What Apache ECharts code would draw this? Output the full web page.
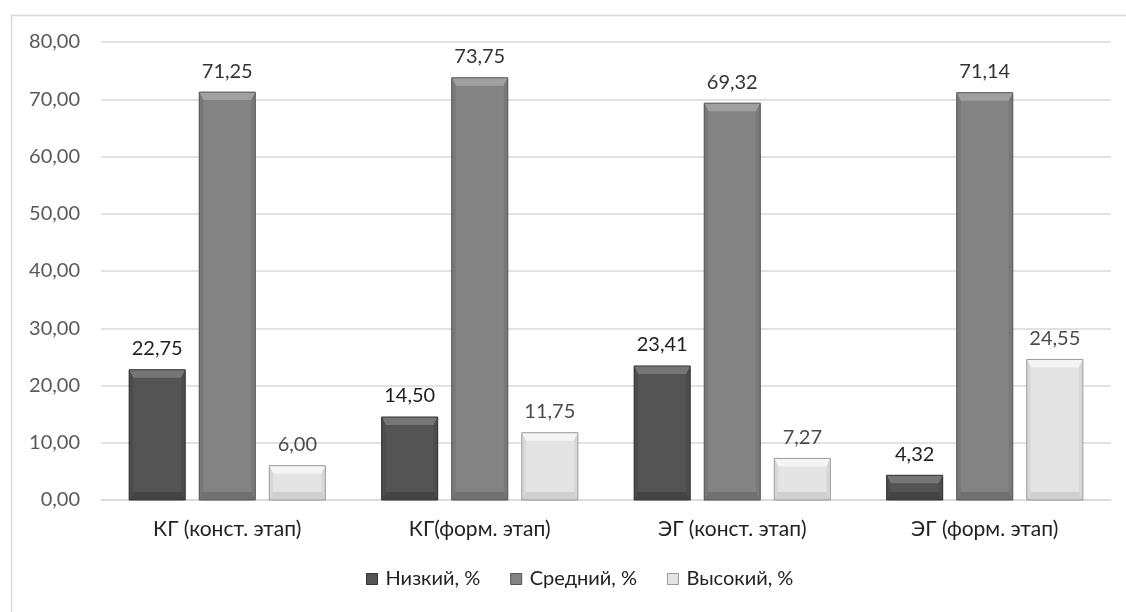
<!DOCTYPE html>
<html>
<head>
<meta charset="utf-8">
<script src="https://cdn.jsdelivr.net/npm/echarts@6/dist/echarts.min.js"></script>
<style>
  html, body { margin: 0; padding: 0; background: #fff; }
  #chart { width: 1126px; height: 612px; }
</style>
</head>
<body>
<div id="chart"></div>
<script>
// Categories and series values
const categories = ['КГ (конст. этап)', 'КГ(форм. этап)', 'ЭГ (конст. этап)', 'ЭГ (форм. этап)'];
const seriesNames = ['Низкий, %', 'Средний, %', 'Высокий, %'];
const lowValues = [22.75, 14.50, 23.41, 4.32];
const midValues = [71.25, 73.75, 69.32, 71.14];
const highValues = [6.00, 11.75, 7.27, 24.55];
const yTicks = [0, 10, 20, 30, 40, 50, 60, 70, 80];

// Shading for the bevelled bars: body, top bevel, side bevel, bottom bevel, outline, label
const palettes = [
  { body: '#545454', top: '#767676', side: '#4c4c4c', bottom: '#444444', edge: '#333333', label: '#1e1e1e' },
  { body: '#838383', top: '#a0a0a0', side: '#797979', bottom: '#707070', edge: '#555555', label: '#333333' },
  { body: '#e4e4e4', top: '#f4f4f4', side: '#d8d8d8', bottom: '#d0d0d0', edge: '#9a9a9a', label: '#4a4a4a' }
];
const allValues = [lowValues, midValues, highValues];

const fmt = v => v.toFixed(2).replace('.', ',');
const FONT = 'Lato, "Open Sans", sans-serif';

function makeRenderer(s) {
  const pal = palettes[s];
  return function (params, api) {
    const i = api.value(0);
    const v = api.value(1);
    const base = api.coord([i, 0]);
    const topPt = api.coord([i, v]);
    const catW = api.size([1, 0])[0];
    const bw = catW * 0.222;
    const gap = bw * 0.25;
    const cx = base[0] + (s - 1) * (bw + gap);
    const x0 = cx - bw / 2, x1 = cx + bw / 2;
    const y0 = topPt[1], y1 = base[1];
    const h = y1 - y0;
    const bv = Math.min(8, h / 2);
    const sv = Math.min(4, bw / 4);
    return {
      type: 'group',
      children: [
        { type: 'rect', shape: { x: x0, y: y0, width: bw, height: h }, style: { fill: pal.body } },
        { type: 'polygon', shape: { points: [[x0, y0], [x1, y0], [x1 - sv, y0 + bv], [x0 + sv, y0 + bv]] }, style: { fill: pal.top } },
        { type: 'polygon', shape: { points: [[x0, y0], [x0 + sv, y0 + bv], [x0 + sv, y1 - bv], [x0, y1]] }, style: { fill: pal.side } },
        { type: 'polygon', shape: { points: [[x1, y0], [x1 - sv, y0 + bv], [x1 - sv, y1 - bv], [x1, y1]] }, style: { fill: pal.side } },
        { type: 'polygon', shape: { points: [[x0, y1], [x0 + sv, y1 - bv], [x1 - sv, y1 - bv], [x1, y1]] }, style: { fill: pal.bottom } },
        { type: 'rect', shape: { x: x0, y: y0, width: bw, height: h }, style: { fill: 'none', stroke: pal.edge, lineWidth: 1 } },
        { type: 'text', style: { text: fmt(v), x: cx, y: y0 - 11, align: 'center', verticalAlign: 'bottom', fill: pal.label, font: '20px ' + FONT } }
      ]
    };
  };
}

const chart = echarts.init(document.getElementById('chart'), null, { renderer: 'canvas' });
chart.setOption({
  backgroundColor: '#ffffff',
  animation: false,
  graphic: [
    { type: 'rect', shape: { x: 11.5, y: 15.5, width: 1130, height: 620 }, style: { fill: 'none', stroke: '#d9d9d9', lineWidth: 1.5 }, z: -1 }
  ],
  grid: { left: 101, right: 15, top: 42, bottom: 112 },
  legend: {
    bottom: 18,
    left: 361,
    icon: 'rect',
    itemWidth: 11,
    itemHeight: 11,
    itemGap: 30,
    itemStyle: { borderWidth: 1 },
    textStyle: { fontSize: 20, color: '#222', fontFamily: FONT, padding: [0, 0, 0, 3] },
    data: seriesNames
  },
  xAxis: {
    type: 'category',
    data: categories,
    axisTick: { show: false },
    axisLine: { lineStyle: { color: '#d9d9d9', width: 1.5 } },
    axisLabel: { fontSize: 21, color: '#222', margin: 19, fontFamily: FONT }
  },
  yAxis: {
    type: 'value',
    min: yTicks[0],
    max: yTicks[yTicks.length - 1],
    interval: 10,
    axisLabel: { fontSize: 20, color: '#595959', margin: 21, fontFamily: FONT, formatter: v => fmt(v) },
    splitLine: { lineStyle: { color: '#d9d9d9', width: 1.5 } },
    axisLine: { show: false },
    axisTick: { show: false }
  },
  series: allValues.map((vals, s) => ({
    name: seriesNames[s],
    type: 'custom',
    renderItem: makeRenderer(s),
    itemStyle: { color: palettes[s].body, borderColor: palettes[s].edge, borderWidth: 1 },
    encode: { x: 0, y: 1 },
    data: vals.map((v, i) => [i, v])
  }))
});
</script>
</body>
</html>
